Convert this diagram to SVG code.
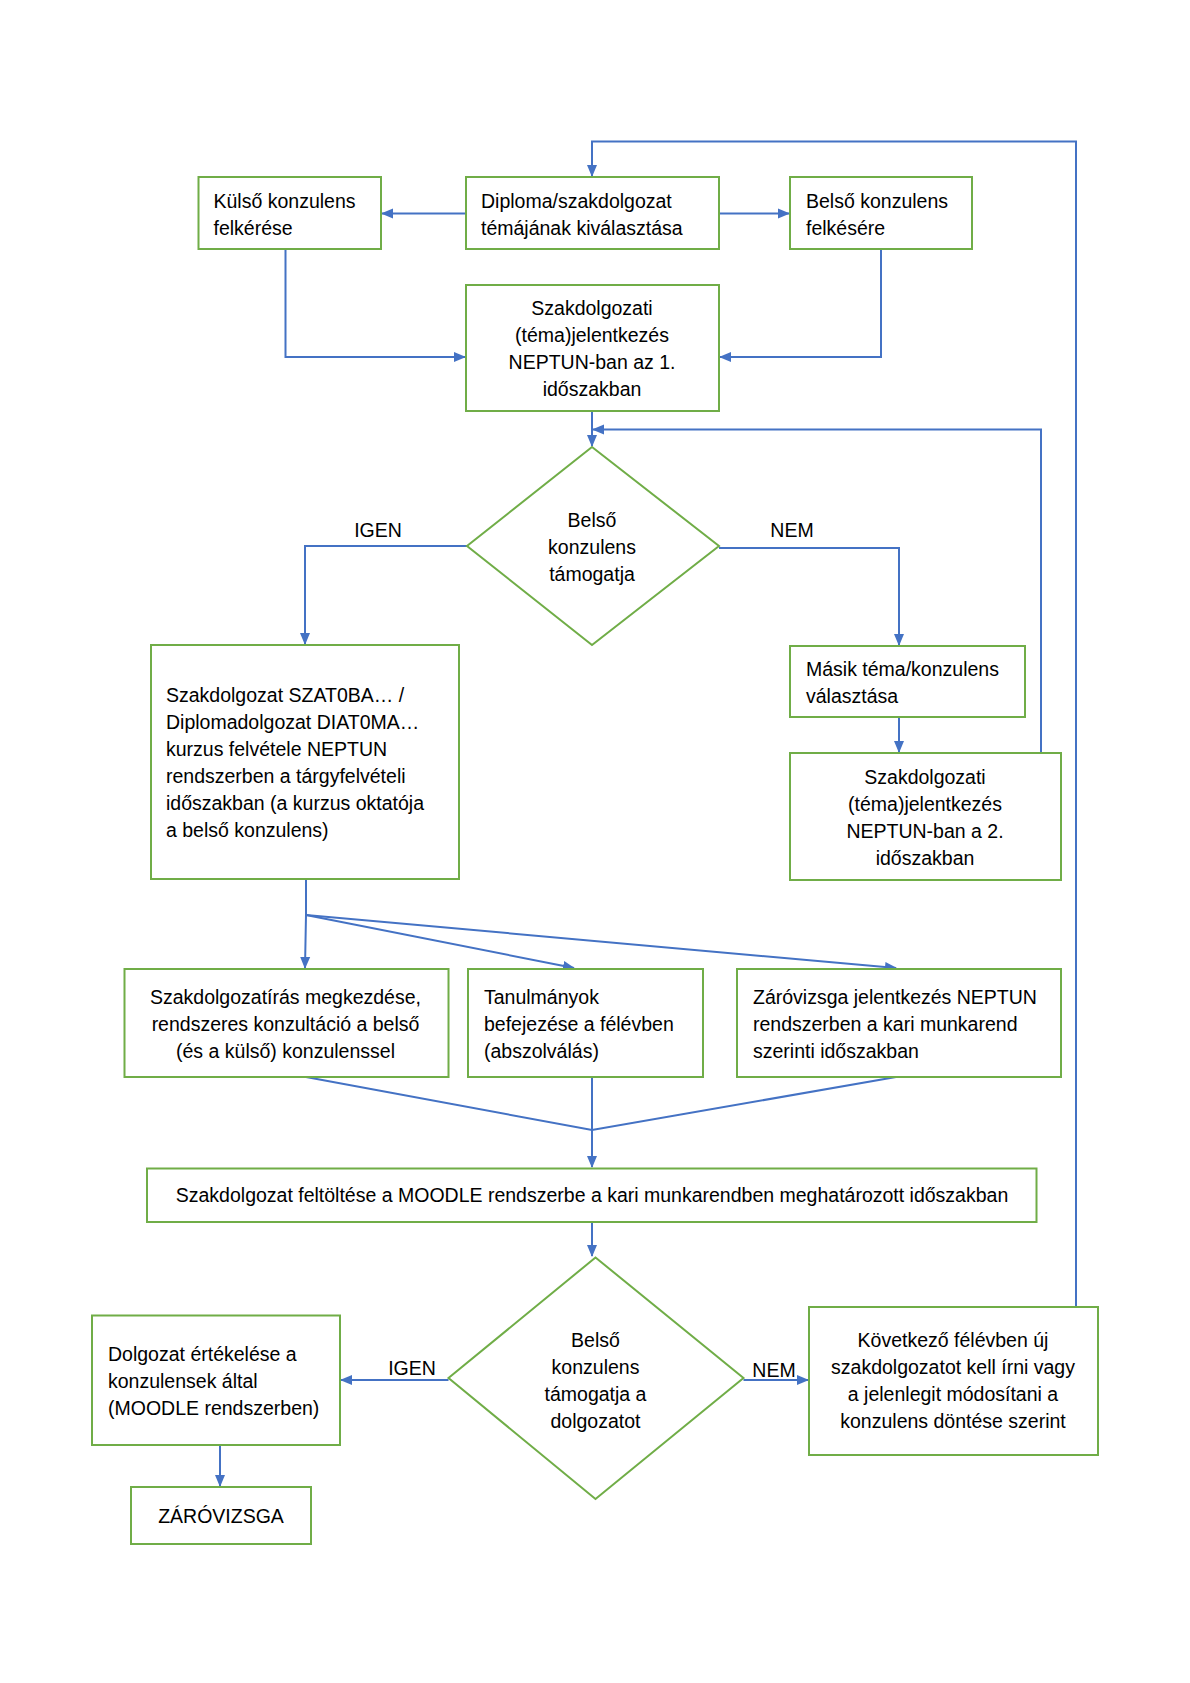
<svg xmlns="http://www.w3.org/2000/svg" width="1190" height="1683" viewBox="0 0 1190 1683">
<style>
.n{fill:#fff;stroke:#70AD47;stroke-width:2}
.c{fill:none;stroke:#4472C4;stroke-width:2}
text{font-family:"Liberation Sans",Arial,sans-serif;font-size:19.5px;fill:#000}
.m{text-anchor:middle}
</style>
<defs>
<marker id="a" markerUnits="userSpaceOnUse" markerWidth="12" markerHeight="12" viewBox="0 0 12 12" refX="11" refY="6" orient="auto">
<path d="M0,1 L12,6 L0,11 Z" fill="#4472C4"/>
</marker>
</defs>
<rect width="1190" height="1683" fill="#fff"/>
<g id="connectors">
<path class="c" d="M1076,1307 V141.5 H592 V176" marker-end="url(#a)"/>
<path class="c" d="M466,213.5 H382" marker-end="url(#a)"/>
<path class="c" d="M719,213.5 H789" marker-end="url(#a)"/>
<path class="c" d="M285.5,249 V357 H465" marker-end="url(#a)"/>
<path class="c" d="M881,249 V357 H720" marker-end="url(#a)"/>
<path class="c" d="M592,411 V446" marker-end="url(#a)"/>
<path class="c" d="M1041,753 V429.5 H593" marker-end="url(#a)"/>
<path class="c" d="M467,546 H305 V644" marker-end="url(#a)"/>
<path class="c" d="M719,548 H899 V645" marker-end="url(#a)"/>
<path class="c" d="M899,717 V752" marker-end="url(#a)"/>
<path class="c" d="M306,879 V915 L305,968" marker-end="url(#a)"/>
<path class="c" d="M306,915 L574,968" marker-end="url(#a)"/>
<path class="c" d="M306,915 L896,968" marker-end="url(#a)"/>
<path class="c" d="M306,1077 L592,1130 L896,1077"/>
<path class="c" d="M592,1077 V1167" marker-end="url(#a)"/>
<path class="c" d="M592,1222 V1256" marker-end="url(#a)"/>
<path class="c" d="M448.5,1380 H341" marker-end="url(#a)"/>
<path class="c" d="M743.5,1380 H808" marker-end="url(#a)"/>
<path class="c" d="M220,1445 V1486" marker-end="url(#a)"/>
<text x="378" y="537" class="m">IGEN</text>
<text x="792" y="537" class="m">NEM</text>
<text x="412" y="1375" class="m">IGEN</text>
<text x="774" y="1377" class="m">NEM</text>
</g>
<g id="kulso">
<rect class="n" x="198.5" y="177" width="182.5" height="72"/>
<text x="213.5" y="208">Külső konzulens</text>
<text x="213.5" y="235">felkérése</text>
</g>
<g id="diploma">
<rect class="n" x="466" y="177" width="253" height="72"/>
<text x="481" y="208">Diploma/szakdolgozat</text>
<text x="481" y="235">témájának kiválasztása</text>
</g>
<g id="belso">
<rect class="n" x="790" y="177" width="182" height="72"/>
<text x="806" y="208">Belső konzulens</text>
<text x="806" y="235">felkésére</text>
</g>
<g id="jel1">
<rect class="n" x="466" y="285" width="253" height="126"/>
<text x="592" y="315" class="m">Szakdolgozati</text>
<text x="592" y="342" class="m">(téma)jelentkezés</text>
<text x="592" y="369" class="m">NEPTUN-ban az 1.</text>
<text x="592" y="396" class="m">időszakban</text>
</g>
<g id="dec1">
<polygon class="n" points="592,447 719,546 592,645 467,546"/>
<text x="592" y="527" class="m">Belső</text>
<text x="592" y="554" class="m">konzulens</text>
<text x="592" y="581" class="m">támogatja</text>
</g>
<g id="kurzus">
<rect class="n" x="151" y="645" width="308" height="234"/>
<text x="166" y="702">Szakdolgozat SZAT0BA… /</text>
<text x="166" y="729">Diplomadolgozat DIAT0MA…</text>
<text x="166" y="756">kurzus felvétele NEPTUN</text>
<text x="166" y="783">rendszerben a tárgyfelvételi</text>
<text x="166" y="810">időszakban (a kurzus oktatója</text>
<text x="166" y="837">a belső konzulens)</text>
</g>
<g id="masik">
<rect class="n" x="790" y="646" width="235" height="71"/>
<text x="806" y="676">Másik téma/konzulens</text>
<text x="806" y="703">választása</text>
</g>
<g id="jel2">
<rect class="n" x="790" y="753" width="271" height="127"/>
<text x="925" y="784" class="m">Szakdolgozati</text>
<text x="925" y="811" class="m">(téma)jelentkezés</text>
<text x="925" y="838" class="m">NEPTUN-ban a 2.</text>
<text x="925" y="865" class="m">időszakban</text>
</g>
<g id="iras">
<rect class="n" x="124.5" y="969" width="324" height="108"/>
<text x="285.5" y="1004" class="m">Szakdolgozatírás megkezdése,</text>
<text x="285.5" y="1031" class="m">rendszeres konzultáció a belső</text>
<text x="285.5" y="1058" class="m">(és a külső) konzulenssel</text>
</g>
<g id="tanul">
<rect class="n" x="468" y="969" width="235" height="108"/>
<text x="484" y="1004">Tanulmányok</text>
<text x="484" y="1031">befejezése a félévben</text>
<text x="484" y="1058">(abszolválás)</text>
</g>
<g id="zvjel">
<rect class="n" x="737" y="969" width="324" height="108"/>
<text x="753" y="1004">Záróvizsga jelentkezés NEPTUN</text>
<text x="753" y="1031">rendszerben a kari munkarend</text>
<text x="753" y="1058">szerinti időszakban</text>
</g>
<g id="moodle">
<rect class="n" x="147" y="1168.5" width="889.5" height="53.5"/>
<text x="592" y="1202" class="m">Szakdolgozat feltöltése a MOODLE rendszerbe a kari munkarendben meghatározott időszakban</text>
</g>
<g id="dec2">
<polygon class="n" points="595.5,1257.5 743.5,1378 595.5,1499 448.5,1378"/>
<text x="595.5" y="1347" class="m">Belső</text>
<text x="595.5" y="1374" class="m">konzulens</text>
<text x="595.5" y="1401" class="m">támogatja a</text>
<text x="595.5" y="1428" class="m">dolgozatot</text>
</g>
<g id="ertekeles">
<rect class="n" x="92" y="1315.5" width="248" height="129.5"/>
<text x="108" y="1361">Dolgozat értékelése a</text>
<text x="108" y="1388">konzulensek által</text>
<text x="108" y="1415">(MOODLE rendszerben)</text>
</g>
<g id="zarovizsga">
<rect class="n" x="131" y="1487" width="180" height="57"/>
<text x="221" y="1523" class="m">ZÁRÓVIZSGA</text>
</g>
<g id="kovetkezo">
<rect class="n" x="809" y="1307" width="289" height="148"/>
<text x="953" y="1347" class="m">Következő félévben új</text>
<text x="953" y="1374" class="m">szakdolgozatot kell írni vagy</text>
<text x="953" y="1401" class="m">a jelenlegit módosítani a</text>
<text x="953" y="1428" class="m">konzulens döntése szerint</text>
</g>
</svg>
